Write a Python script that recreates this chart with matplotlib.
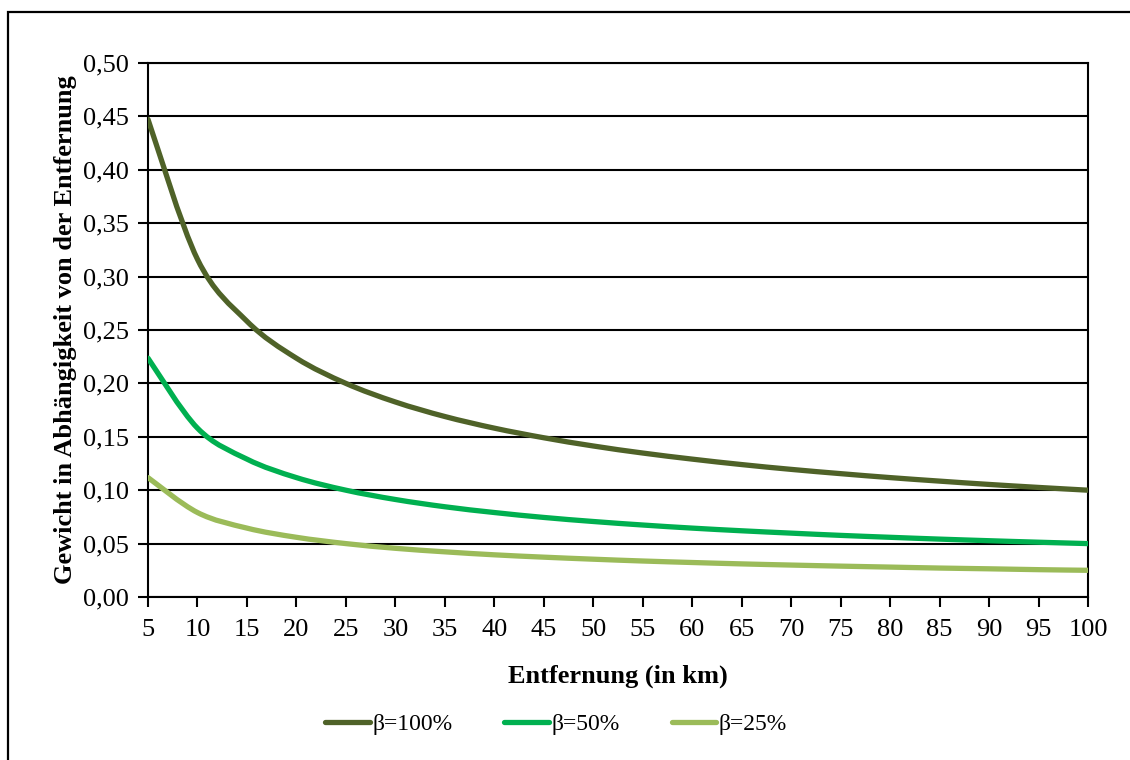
import matplotlib
matplotlib.use("Agg")
import matplotlib.pyplot as plt
import matplotlib.patches as patches
from matplotlib.path import Path
from matplotlib.lines import Line2D
from matplotlib.ticker import FuncFormatter

plt.rcParams['font.family'] = ['Liberation Serif', 'DejaVu Serif']

# Entfernung in km
entfernung = [5, 10, 15, 20, 25, 30, 35, 40, 45, 50,
              55, 60, 65, 70, 75, 80, 85, 90, 95, 100]

# Gewicht je Beta
beta_100 = [0.4472, 0.3162, 0.2582, 0.2236, 0.2000, 0.1826, 0.1690, 0.1581, 0.1491, 0.1414,
            0.1348, 0.1291, 0.1240, 0.1195, 0.1155, 0.1118, 0.1085, 0.1054, 0.1026, 0.1000]
beta_50 = [0.2236, 0.1581, 0.1291, 0.1118, 0.1000, 0.0913, 0.0845, 0.0791, 0.0745, 0.0707,
           0.0674, 0.0645, 0.0620, 0.0598, 0.0577, 0.0559, 0.0542, 0.0527, 0.0513, 0.0500]
beta_25 = [0.1118, 0.0791, 0.0645, 0.0559, 0.0500, 0.0456, 0.0423, 0.0395, 0.0373, 0.0354,
           0.0337, 0.0323, 0.0310, 0.0299, 0.0289, 0.0280, 0.0271, 0.0264, 0.0256, 0.0250]

labels = ['β=100%', 'β=50%', 'β=25%']
farben = ['#4F6228', '#00B050', '#9BBB59']


def glatte_linie(xs, ys):
    # Excel-artige geglaettete Linie (Bezier ueber Nachbarpunkte)
    n = len(xs)
    verts = [(xs[0], ys[0])]
    codes = [Path.MOVETO]
    for i in range(n - 1):
        x0, y0 = xs[max(i - 1, 0)], ys[max(i - 1, 0)]
        x1, y1 = xs[i], ys[i]
        x2, y2 = xs[i + 1], ys[i + 1]
        x3, y3 = xs[min(i + 2, n - 1)], ys[min(i + 2, n - 1)]
        c1 = (x1 + (x2 - x0) / 6.0, y1 + (y2 - y0) / 6.0)
        c2 = (x2 - (x3 - x1) / 6.0, y2 - (y3 - y1) / 6.0)
        verts += [c1, c2, (x2, y2)]
        codes += [Path.CURVE4] * 3
    return Path(verts, codes)


fig = plt.figure(figsize=(11.3, 7.6), dpi=100)
ax = fig.add_axes([148 / 1130, 1 - 597 / 760, 940 / 1130, 534 / 760])

for werte, farbe in zip([beta_100, beta_50, beta_25], farben):
    pfad = glatte_linie(entfernung, werte)
    ax.add_patch(patches.PathPatch(pfad, facecolor='none', edgecolor=farbe,
                                   linewidth=3.8, capstyle='round', zorder=3))

ax.set_xlim(5, 100)
ax.set_ylim(0, 0.5)
ax.set_xticks(entfernung)
ax.set_yticks([i * 0.05 for i in range(11)])
ax.yaxis.set_major_formatter(FuncFormatter(lambda v, p: f"{v:.2f}".replace('.', ',')))
ax.tick_params(axis='both', direction='out', length=7, width=1.5,
               labelsize=19, colors='black', pad=7)
ax.tick_params(axis='x', pad=9)
ax.grid(axis='y', color='black', linewidth=1.5)
ax.set_axisbelow(True)
for s in ax.spines.values():
    s.set_linewidth(1.5)
    s.set_color('black')

ax.set_xlabel('Entfernung (in km)', fontsize=19, fontweight='bold', labelpad=17)
ax.set_ylabel('Gewicht in Abhängigkeit von der Entfernung', fontsize=19,
              fontweight='bold', labelpad=4)

handles = [Line2D([], [], color=f, linewidth=3.8, solid_capstyle='round') for f in farben]
fig.legend(handles, labels, loc='center', bbox_to_anchor=(0.492, 1 - 724 / 760),
           ncol=3, frameon=False, fontsize=17, handlelength=1.9,
           handletextpad=0.1, columnspacing=2.2)

# aeusserer Rahmen (rechts und unten abgeschnitten)
rahmen = patches.Rectangle((8 / 1130, -0.1), 1.2, 1.1 - 12 / 760,
                           transform=fig.transFigure, fill=False,
                           edgecolor='black', linewidth=1.6, clip_on=False)
fig.patches.append(rahmen)

fig.savefig('out.png', dpi=100)
